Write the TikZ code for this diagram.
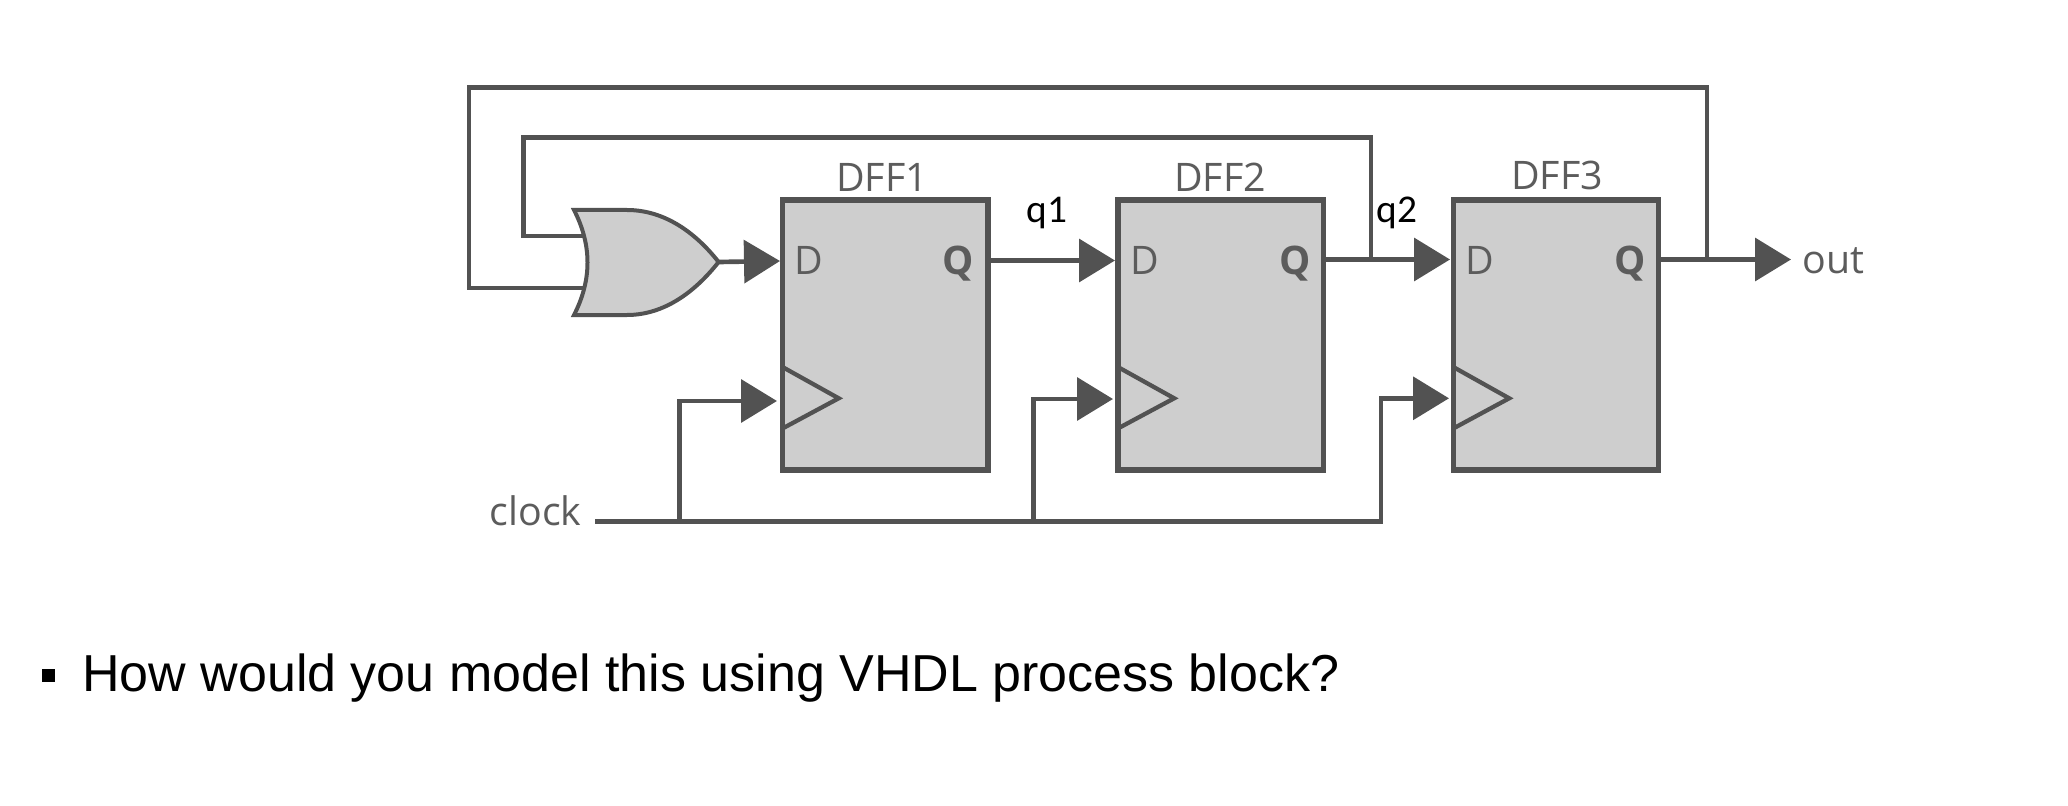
\documentclass[tikz,border=0pt]{standalone}
\usepackage{fontspec}
\usetikzlibrary{arrows.meta}
\setmainfont{Liberation Sans}
\newfontfamily\ubfont{Open Sans}
\newfontfamily\calfont{Carlito}
\definecolor{wire}{HTML}{525252}
\definecolor{boxfill}{HTML}{CECECE}
\definecolor{lbl}{HTML}{5C5C5C}
\tikzset{
  ffbox/.style={draw=wire,fill=boxfill,line width=4pt,minimum width=154.1pt,minimum height=202.4pt,inner sep=0pt,outer sep=0pt},
  wireline/.style={draw=wire,line width=3.5pt,line join=miter},
  sig/.style={wireline,-{Triangle[length=27pt,width=32pt]}},
  clocktri/.style={draw=wire,line width=3.2pt,line join=miter},
  lab/.style={font=\ubfont\fontsize{29.5}{32}\selectfont,text=lbl,anchor=base,inner sep=0pt},
  labq/.style={font=\calfont\fontsize{29.5}{32}\selectfont,text=black,anchor=base,inner sep=0pt},
  caption/.style={font=\fontsize{39}{44}\selectfont,text=black,anchor=base west,inner sep=0pt}
}
\begin{document}
\begin{tikzpicture}[x=0.75pt,y=-0.75pt]
\useasboundingbox (0,0) rectangle (2068,806);

% wire ends at the gate
\coordinate (orA) at (584,236);
\coordinate (orB) at (584,288);
\coordinate (orOut) at (718.6,262);

% flip-flops
\node[ffbox] (dff1) at (885.2,335) {};
\node[ffbox] (dff2) at (1220.6,335) {};
\node[ffbox] (dff3) at (1556,335) {};

% clock triangles
\draw[clocktri] (dff1.west |- 0,367) -- (838.7,398.3) -- (dff1.west |- 0,428.5);
\draw[clocktri] (dff2.west |- 0,367) -- (1174.2,398.3) -- (dff2.west |- 0,428.5);
\draw[clocktri] (dff3.west |- 0,367) -- (1509.2,398.3) -- (dff3.west |- 0,428.5);

% junctions and ports
\coordinate (d1) at (780,261);
\coordinate (d2) at (1115,260.5);
\coordinate (d3) at (1450,259.5);
\coordinate (c1) at (777,401);
\coordinate (c2) at (1113,399);
\coordinate (c3) at (1449,398.3);
\coordinate (j2) at (1371,259.5);
\coordinate (j3) at (1707,259.5);
\coordinate (outEnd) at (1791,259.5);
\coordinate (clkStart) at (595,521.7);
\coordinate (b1) at (679.6,521.7);
\coordinate (b2) at (1033.3,521.7);
\coordinate (b3) at (1381,521.7);

% feedback
\draw[wireline] (j3) |- (469,87.3) |- (orB);
\draw[wireline] (j2) |- (523.4,137.7) |- (orA);

% data
\draw[sig] (orOut) -- (d1);
\draw[sig] (dff1.east |- d2) -- (d2);
\draw[sig] (dff2.east |- j2) -- (d3);
\draw[sig] (dff3.east |- j3) -- (outEnd);

% clock
\draw[sig] (clkStart) -- (b3) |- (c3);
\draw[sig] (b1) |- (c1);
\draw[sig] (b2) |- (c2);

% OR gate
\draw[draw=wire,fill=boxfill,line width=3pt,line join=miter]
  (574,210) -- (627,210) .. controls (664,210) and (695,232) .. (orOut)
  .. controls (695,292) and (664,315) .. (627,315) -- (574,315)
  .. controls (592,280) and (592,245) .. (574,210) -- cycle;

% labels
\node[lab] (t1) at (882,191.7) {DFF1};
\node[lab] (t2) at (1220,191.7) {DFF2};
\node[lab] (t3) at (1557,189.3) {DFF3};
\foreach \n/\x in {1/809,2/1144.5,3/1480}{
  \node[lab] (D\n) at (\x,274.5) {D};
}
\foreach \n/\x in {1/958.5,2/1295,3/1630}{
  \node[lab,font=\ubfont\bfseries\fontsize{29.5}{32}\selectfont] (Q\n) at (\x,274.5) {Q};
}
\node[lab] (clk) at (535.7,525.7) {clock};
\node[lab,anchor=base west] (out) at (1802,273) {out};
\node[labq] (q1) at (1047,222.7) {q1};
\node[labq] (q2) at (1397,222.7) {q2};

% caption
\node[draw=none,fill=black,minimum width=9.75pt,minimum height=9.75pt,inner sep=0pt] (bullet) at (48.5,675.5) {};
\node[caption] (cap) at (82,691.5) {How would you model this using VHDL process block?};
\end{tikzpicture}
\end{document}
